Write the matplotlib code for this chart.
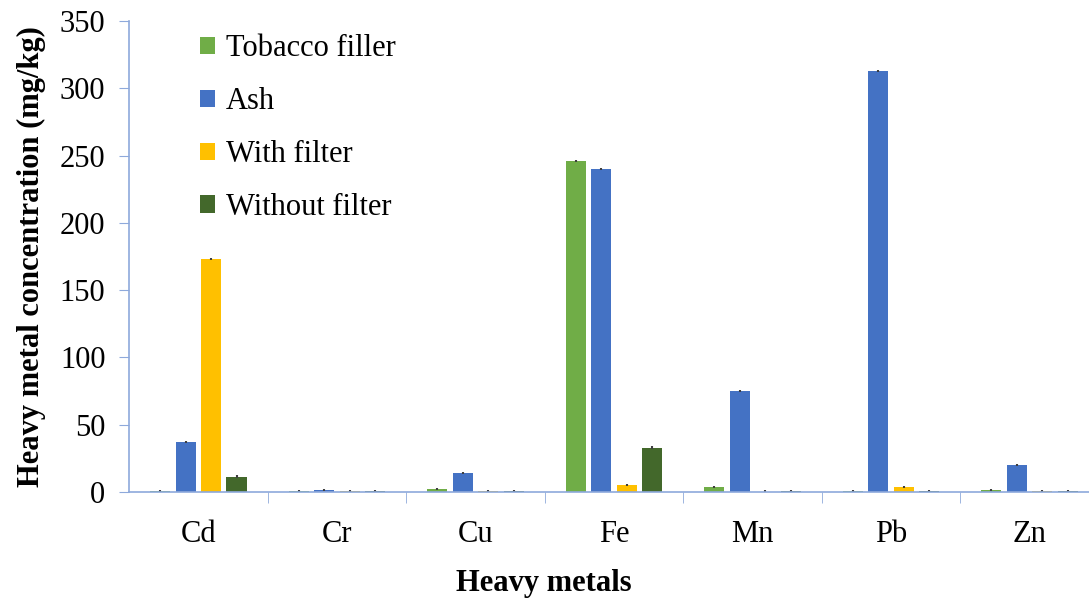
import numpy as np
import matplotlib.pyplot as plt
from matplotlib.ticker import FixedLocator

plt.rcParams['font.family'] = ['Liberation Serif', 'DejaVu Serif']

# Data
metals = ['Cd', 'Cr', 'Cu', 'Fe', 'Mn', 'Pb', 'Zn']
tobacco_filler = [0.5, 0.5, 2.0, 246, 3.5, 0.5, 1.5]
ash = [37, 1.2, 14, 240, 75, 313, 20]
with_filter = [173, 0.5, 1.0, 5.0, 0.3, 4.0, 0.5]
without_filter = [11.5, 1.0, 0.8, 33, 0.5, 0.5, 0.5]
err = [0.8, 0.8, 0.8, 0.8, 0.8, 0.8, 0.8]

series = [
    ('Tobacco filler', tobacco_filler, '#70AD47'),
    ('Ash', ash, '#4472C4'),
    ('With filter', with_filter, '#FFC000'),
    ('Without filter', without_filter, '#43682B'),
]

fig = plt.figure(figsize=(10.89, 6.01), dpi=100)
ax = fig.add_axes([0.1185, 0.1814, 0.8815, 0.7836])

x = np.arange(len(metals))
slot = 0.184
bw = 0.145
for i, (lab, vals, col) in enumerate(series):
    ax.bar(x + (i - 1.5) * slot, vals, width=bw, color=col, label=lab,
           yerr=err, error_kw=dict(ecolor='#404040', elinewidth=1.5, capsize=0))

ax.set_xlim(-0.5, 6.43)
ax.set_ylim(0, 350)
ax.set_yticks(np.arange(0, 351, 50))
ax.set_xticks(x)
ax.set_xticklabels(metals)
ax.xaxis.set_minor_locator(FixedLocator(np.arange(0.5, 6.5, 1)))
ax.tick_params(axis='x', which='major', length=0, pad=20, labelsize=22)
ax.tick_params(axis='x', which='minor', length=8, color='#8EA9DB', direction='out')
ax.tick_params(axis='y', length=7, color='#8EA9DB', labelsize=22, pad=10)

for s in ['top', 'right']:
    ax.spines[s].set_visible(False)
for s in ['left', 'bottom']:
    ax.spines[s].set_color('#8EA9DB')
    ax.spines[s].set_linewidth(1.2)

ax.set_xlabel('Heavy metals', fontsize=22, fontweight='bold', va='center')
ax.xaxis.set_label_coords(0.432, -0.195)
ax.set_ylabel('Heavy metal concentration (mg/kg)', fontsize=22, fontweight='bold', labelpad=10)

ax.legend(loc='upper left', bbox_to_anchor=(0.045, 1.03), frameon=False, fontsize=22,
          handlelength=0.5, handleheight=0.5, handletextpad=0.35, labelspacing=0.78)

plt.savefig('out.png')
